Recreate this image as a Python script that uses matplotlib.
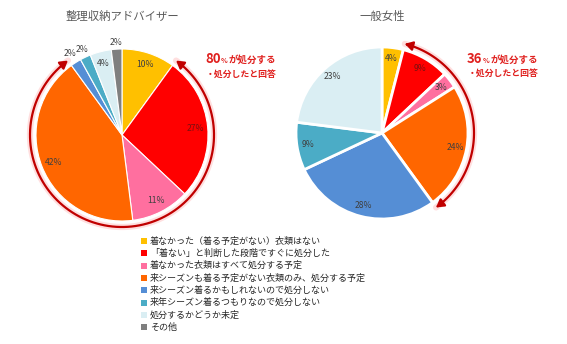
import matplotlib
matplotlib.use("Agg")
import matplotlib.pyplot as plt
import numpy as np
from matplotlib.patches import FancyArrowPatch, Rectangle
from matplotlib.path import Path

plt.rcParams['font.family'] = ['Noto Sans CJK JP', 'DejaVu Sans']

# --- data -------------------------------------------------------------
categories = [
    "着なかった（着る予定がない）衣類はない",
    "「着ない」と判断した段階ですぐに処分した",
    "着なかった衣類はすべて処分する予定",
    "来シーズンも着る予定がない衣類のみ、処分する予定",
    "来シーズン着るかもしれないので処分しない",
    "来年シーズン着るつもりなので処分しない",
    "処分するかどうか未定",
    "その他",
]
colors = ["#FFC000", "#FF0000", "#FF6F9F", "#FF6600",
          "#558ED5", "#4BACC6", "#DAEEF3", "#7F7F7F"]

adviser_title = "整理収納アドバイザー"
adviser_values = [10, 27, 11, 42, 2, 2, 4, 2]

women_title = "一般女性"
women_values = [4, 9, 3, 24, 28, 9, 23, 0]

# slices (by index) counted as "disposed / will dispose"
dispose_idx = [1, 2, 3]

# --- figure in pixel coordinates ---------------------------------------
W, H = 567, 344
fig = plt.figure(figsize=(W / 100, H / 100), dpi=100)
ax = fig.add_axes([0, 0, 1, 1])
ax.set_xlim(0, W)
ax.set_ylim(0, H)
ax.set_aspect('equal')
ax.axis('off')


def Y(y):
    return H - y


R = 86
red_txt = "#E0201E"
arc_col = "#C00000"


def draw_pie(cx, cy, values, title, edge_lw, label_r, outside):
    vals = [v for v in values if v > 0]
    cols = [c for c, v in zip(colors, values) if v > 0]
    wedges, _ = ax.pie(vals, colors=cols, startangle=90, counterclock=False,
                       center=(cx, Y(cy)), radius=R, frame=True,
                       wedgeprops=dict(edgecolor='white', linewidth=edge_lw))
    for i, (w, v) in enumerate(zip(wedges, vals)):
        mid = np.deg2rad((w.theta1 + w.theta2) / 2)
        r = outside.get(i, label_r) * R
        tc = '#7A1010' if cols[i] == "#FF0000" else '#404040'
        ax.text(cx + r * np.cos(mid), Y(cy) + r * np.sin(mid), f"{v}%",
                ha='center', va='center', fontsize=6.2, color=tc)
    ax.text(cx, Y(16), title, ha='center', va='center',
            fontsize=8.2, color='#595959')

    # arc with arrowheads around the "dispose" slices
    total = sum(values)
    start = sum(values[:dispose_idx[0]]) / total
    end = sum(values[:dispose_idx[-1] + 1]) / total
    th = np.deg2rad(90 - 360 * np.linspace(start, end, 120))
    ra = R + 6
    pts = np.column_stack([cx + ra * np.cos(th), Y(cy) + ra * np.sin(th)])
    ax.plot(pts[:, 0], pts[:, 1], color='#FF8080', lw=4.5, alpha=0.25,
            solid_capstyle='round', zorder=3)
    arr = FancyArrowPatch(path=Path(pts), arrowstyle='<|-|>,head_length=0.5,head_width=0.3',
                          mutation_scale=9, color=arc_col, lw=1.6, zorder=4)
    ax.add_patch(arr)
    return sum(values[i] for i in dispose_idx)


def note(x, y1, y2, share):
    r = fig.canvas.get_renderer()
    t1 = ax.text(x, Y(y1), f"{share}", fontsize=9.5, fontweight='bold',
                 color=red_txt, ha='left', va='baseline')
    bb = t1.get_window_extent(r)
    t2 = ax.text(bb.x1 + 0.5, Y(y1), "%", fontsize=5, fontweight='bold',
                 color=red_txt, ha='left', va='baseline')
    bb2 = t2.get_window_extent(r)
    ax.text(bb2.x1 + 0.5, Y(y1), "が処分する", fontsize=6.8, fontweight='bold',
            color=red_txt, ha='left', va='baseline')
    ax.text(x + 1, Y(y2), "・処分したと回答", fontsize=6.4, fontweight='bold',
            color=red_txt, ha='left', va='baseline')


s1 = draw_pie(122, 135, adviser_values, adviser_title, 0.8, 0.86,
              {4: 1.12, 5: 1.1, 7: 1.08})
s2 = draw_pie(382, 133, women_values, women_title, 2.0, 0.87, {})

fig.canvas.draw()
note(205, 63, 77, s1)
note(467, 63, 76, s2)

# legend
for i, (lab, c) in enumerate(zip(categories, colors)):
    yc = 241 + i * 12.3
    ax.add_patch(Rectangle((141, Y(yc) - 3), 6, 6, facecolor=c, edgecolor='none'))
    ax.text(150, Y(yc), lab, fontsize=6.5, color='#262626', ha='left', va='center')

fig.savefig("out.png", dpi=100)
